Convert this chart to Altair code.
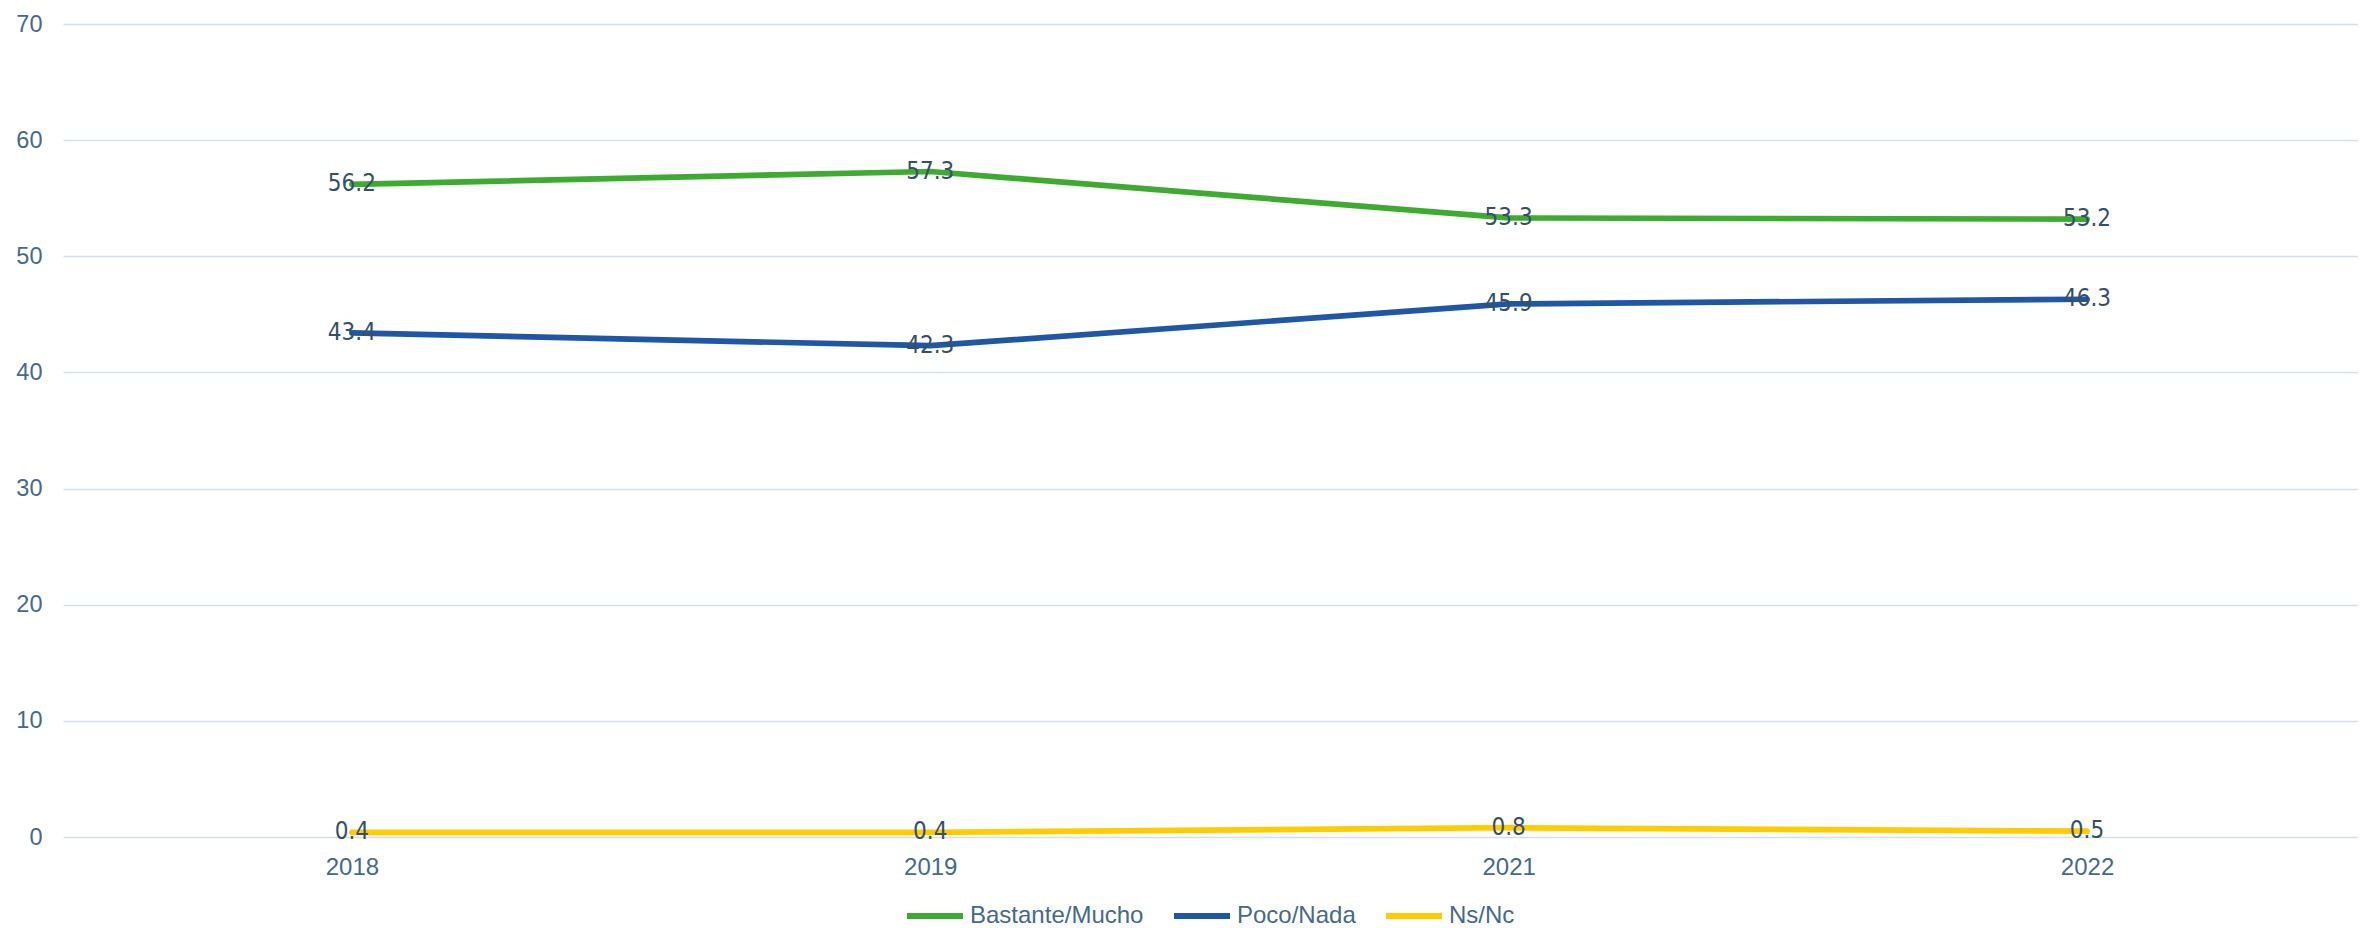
import altair as alt
import pandas as pd

years = ["2018", "2019", "2021", "2022"]
series_names = ["Bastante/Mucho", "Poco/Nada", "Ns/Nc"]
bastante = [56.2, 57.3, 53.3, 53.2]
poco = [43.4, 42.3, 45.9, 46.3]
nsnc = [0.4, 0.4, 0.8, 0.5]
colors = ["#3DAB2F", "#1F56A6", "#FFCC00"]

rows = []
for name, vals in zip(series_names, [bastante, poco, nsnc]):
    for y, v in zip(years, vals):
        rows.append({"year": y, "value": v, "series": name, "label": f"{v:.1f}"})
df = pd.DataFrame(rows)

axis_color = "#46698C"
label_color = "#34506B"
grid_color = "#D3DFE9"

x = alt.X("year:O", title=None,
          scale=alt.Scale(type="point", domain=years, padding=0.484, align=0.516),
          axis=alt.Axis(labelAngle=0, ticks=False, domain=False, grid=False,
                        labelFont="Liberation Sans", labelFontSize=24,
                        labelColor=axis_color, labelPadding=18))
y = alt.Y("value:Q", title=None,
          scale=alt.Scale(domain=[0, 70], nice=False),
          axis=alt.Axis(values=[0, 10, 20, 30, 40, 50, 60, 70], ticks=False, domain=False,
                        gridColor=grid_color, gridWidth=1.5,
                        labelFont="Liberation Sans", labelFontSize=23.5,
                        labelColor=axis_color, labelPadding=21))

color = alt.Color("series:N", scale=alt.Scale(domain=series_names, range=colors),
                  legend=alt.Legend(title=None, orient="none", direction="horizontal",
                                    legendX=841, legendY=861,
                                    symbolType="stroke", symbolSize=3136,
                                    symbolStrokeWidth=6, labelOffset=4,
                                    columnPadding=18, labelLimit=0,
                                    labelFont="Liberation Sans", labelFontSize=24,
                                    labelColor=axis_color))

lines = alt.Chart(df).mark_line(strokeWidth=5.7, strokeCap="round").encode(
    x=x, y=y, color=color, order=alt.Order("year:O"))

labels = alt.Chart(df).mark_text(
    font="Liberation Sans Narrow, Arial Narrow, DejaVu Sans Condensed, Liberation Sans",
    fontSize=24, color=label_color, align="center", baseline="middle"
).encode(x=x, y=y, text="label:N")

chart = alt.layer(lines, labels).properties(
    width=2295, height=813, background="white",
    padding={"left": 7, "top": 4, "right": 0, "bottom": 0}
).configure_view(stroke=None)

chart.save("out.html", embed_options={"renderer": "svg", "actions": False})
